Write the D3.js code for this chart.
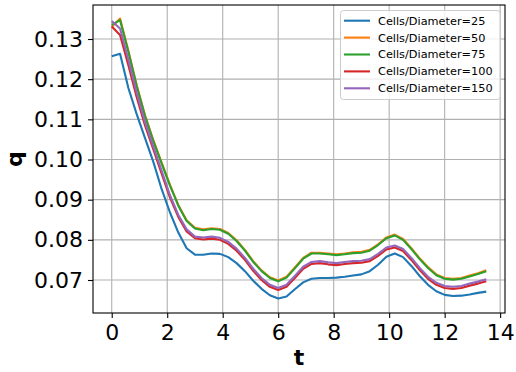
<!DOCTYPE html>
<html><head><meta charset="utf-8">
<script src="https://cdn.jsdelivr.net/npm/d3@7"></script>
<style>body{margin:0;background:#fff}svg{display:block;font-family:"DejaVu Sans",sans-serif}</style>
</head><body><svg id="c" width="516" height="372"></svg>
<script>
const tVals = [0,0.3,0.6,0.9,1.2,1.5,1.8,2.1,2.4,2.7,3.0,3.3,3.6,3.9,4.2,4.5,4.8,5.1,5.4,5.7,6.0,6.3,6.6,6.9,7.2,7.5,7.8,8.1,8.4,8.7,9.0,9.3,9.6,9.9,10.2,10.5,10.8,11.1,11.4,11.7,12.0,12.3,12.6,12.9,13.2,13.5];
const q25 = [0.1257,0.1263,0.1178,0.1113,0.1053,0.0994,0.0926,0.0868,0.0818,0.0779,0.0763,0.0763,0.0766,0.0765,0.0757,0.0742,0.0722,0.0698,0.0678,0.0662,0.0654,0.0659,0.0677,0.0694,0.0703,0.0705,0.0705,0.0706,0.0708,0.0711,0.0714,0.0722,0.0738,0.0758,0.0766,0.0757,0.0735,0.0710,0.0688,0.0672,0.0663,0.0660,0.0661,0.0664,0.0668,0.0671];
const q50 = [0.1330,0.1351,0.1271,0.1185,0.1110,0.1048,0.0992,0.0937,0.0887,0.0849,0.0830,0.0826,0.0829,0.0827,0.0817,0.0799,0.0775,0.0747,0.0724,0.0707,0.0699,0.0708,0.0731,0.0755,0.0768,0.0768,0.0766,0.0764,0.0766,0.0769,0.0770,0.0775,0.0789,0.0806,0.0813,0.0802,0.0779,0.0754,0.0732,0.0714,0.0705,0.0703,0.0705,0.0711,0.0717,0.0724];
const q75 = [0.1335,0.1347,0.1268,0.1183,0.1108,0.1046,0.0990,0.0935,0.0885,0.0847,0.0828,0.0824,0.0827,0.0825,0.0815,0.0797,0.0773,0.0745,0.0722,0.0705,0.0697,0.0706,0.0729,0.0753,0.0766,0.0766,0.0764,0.0762,0.0764,0.0767,0.0768,0.0773,0.0787,0.0804,0.0811,0.0800,0.0777,0.0752,0.0730,0.0712,0.0703,0.0701,0.0703,0.0709,0.0715,0.0722];
const q100 = [0.1331,0.1310,0.1235,0.1155,0.1085,0.1025,0.0965,0.0905,0.0857,0.0821,0.0804,0.0801,0.0803,0.0800,0.0790,0.0773,0.0750,0.0723,0.0700,0.0683,0.0675,0.0683,0.0705,0.0728,0.0740,0.0742,0.0739,0.0737,0.0740,0.0742,0.0743,0.0747,0.0760,0.0776,0.0781,0.0772,0.0750,0.0725,0.0703,0.0688,0.0680,0.0678,0.0680,0.0686,0.0691,0.0697];
const q150 = [0.1345,0.1326,0.1248,0.1166,0.1093,0.1032,0.0972,0.0911,0.0862,0.0826,0.0808,0.0806,0.0808,0.0805,0.0795,0.0778,0.0755,0.0728,0.0705,0.0688,0.0680,0.0688,0.0710,0.0733,0.0745,0.0747,0.0744,0.0742,0.0745,0.0747,0.0748,0.0752,0.0765,0.0781,0.0786,0.0777,0.0755,0.0730,0.0708,0.0693,0.0685,0.0683,0.0685,0.0691,0.0696,0.0702];
const seriesNames = ["Cells/Diameter=25","Cells/Diameter=50","Cells/Diameter=75","Cells/Diameter=100","Cells/Diameter=150"];
const seriesValues = [q25,q50,q75,q100,q150];
const colors = ["#1f77b4","#ff7f0e","#2ca02c","#d62728","#9467bd"];
const xTicks = [0,2,4,6,8,10,12,14];
const yTicks = [0.07,0.08,0.09,0.10,0.11,0.12,0.13];
const xLabel = "t", yLabel = "q";

const svg = d3.select("#c");
const L=93, R=505, T=5, B=313;
const x = d3.scaleLinear().domain([-0.675,14.175]).range([L,R]);
const y = d3.scaleLinear().domain([0.07,0.13]).range([280,39]);
y.domain([y.invert(B), y.invert(T)]).range([B,T]);

svg.append("rect").attr("width",516).attr("height",372).attr("fill","#fff");
// grid
const g = svg.append("g");
g.selectAll(".gx").data(xTicks).join("line").attr("x1",d=>x(d)).attr("x2",d=>x(d)).attr("y1",T).attr("y2",B).attr("stroke","#b0b0b0").attr("stroke-width",1.1);
g.selectAll(".gy").data(yTicks).join("line").attr("y1",d=>y(d)).attr("y2",d=>y(d)).attr("x1",L).attr("x2",R).attr("stroke","#b0b0b0").attr("stroke-width",1.1);

// lines
const line = d3.line().x((d,i)=>x(tVals[i])).y(d=>y(d));
seriesValues.forEach((s,k)=>{
  svg.append("path").datum(s).attr("d",line).attr("fill","none").attr("stroke",colors[k]).attr("stroke-width",2.1).attr("stroke-linejoin","round").attr("stroke-linecap","butt");
});

// axes
const ax = svg.append("g").attr("transform",`translate(0,${B})`).call(d3.axisBottom(x).tickValues(xTicks).tickFormat(d3.format("d")).tickSize(5).tickPadding(6).tickSizeOuter(0));
const ay = svg.append("g").attr("transform",`translate(${L},0)`).call(d3.axisLeft(y).tickValues(yTicks).tickFormat(d3.format(".2f")).tickSize(5).tickPadding(5).tickSizeOuter(0));
[ax,ay].forEach(a=>{a.select(".domain").remove();a.selectAll("line").attr("stroke","#000").attr("stroke-width",1.1);a.selectAll("text").attr("font-size",22).attr("fill","#000").attr("font-family","DejaVu Sans");});
// frame
svg.append("rect").attr("x",L).attr("y",T).attr("width",R-L).attr("height",B-T).attr("fill","none").attr("stroke","#000").attr("stroke-width",1.1);

svg.append("text").attr("x",299).attr("y",365).attr("text-anchor","middle").attr("font-size",22).attr("font-weight","bold").text(xLabel);
svg.append("text").attr("transform",`translate(22,${(T+B)/2}) rotate(-90)`).attr("text-anchor","middle").attr("font-size",22).attr("font-weight","bold").text(yLabel);

// legend
const lg = svg.append("g");
lg.append("rect").attr("x",340.5).attr("y",10.5).attr("width",159.5).attr("height",89).attr("rx",3).attr("fill","#fff").attr("fill-opacity",0.8).attr("stroke","#cccccc").attr("stroke-width",1);
seriesNames.forEach((n,k)=>{
  const yy = 20.7 + k*16.9;
  lg.append("line").attr("x1",344).attr("x2",370).attr("y1",yy).attr("y2",yy).attr("stroke",colors[k]).attr("stroke-width",2.1);
  lg.append("text").attr("x",378).attr("y",yy).attr("dy","0.35em").attr("font-size",11.3).attr("fill","#000").text(n);
});
</script></body></html>
